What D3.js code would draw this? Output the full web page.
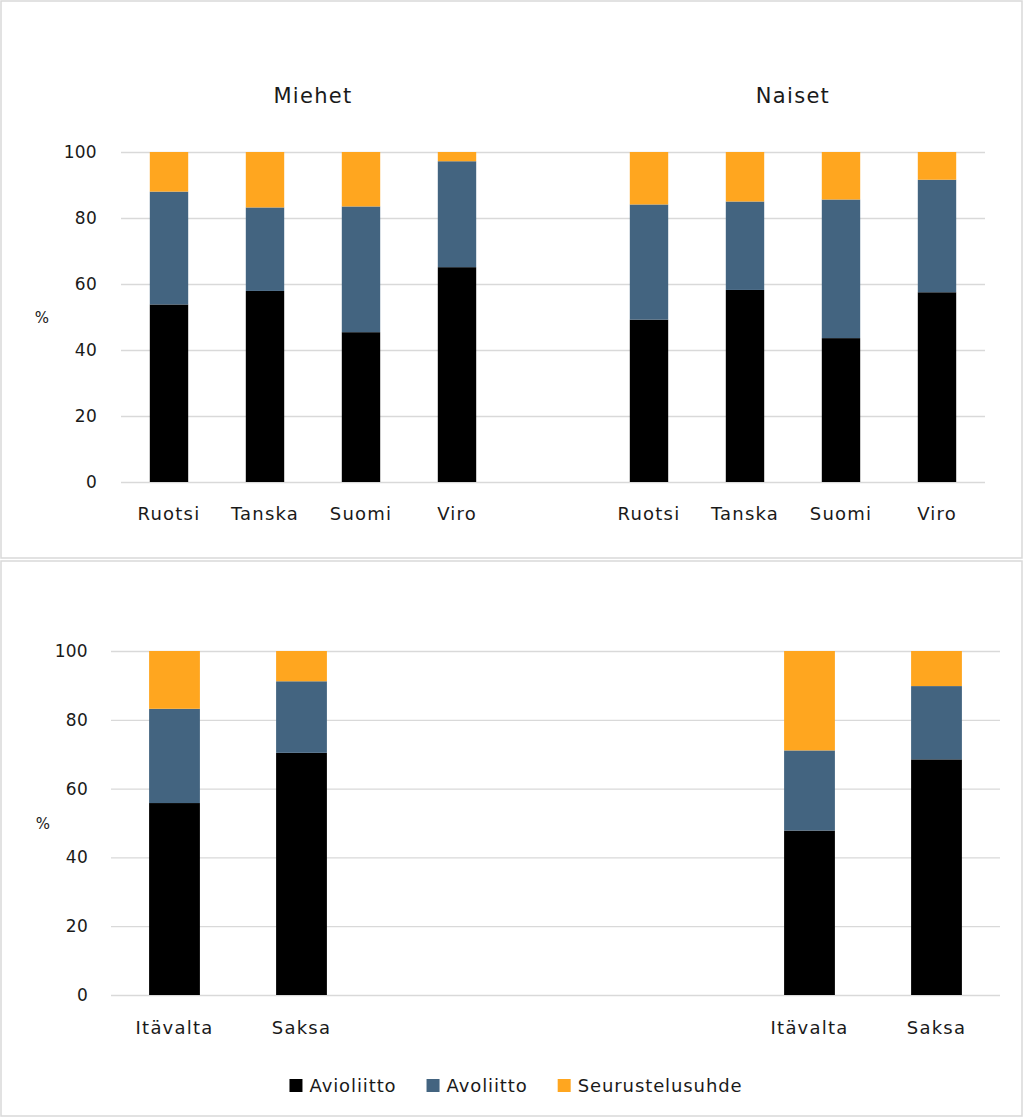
<!DOCTYPE html>
<html>
<head>
<meta charset="utf-8">
<script src="https://cdn.jsdelivr.net/npm/d3@7"></script>
<style>
  html, body { margin: 0; padding: 0; background: #fff; }
  svg { display: block; }
  text { font-family: "DejaVu Sans", sans-serif; fill: #1a1a1a; }
</style>
</head>
<body>
<svg id="chart" width="1024" height="1118"></svg>
<script>
// ---------- DATA ----------
const seriesNames = ["Avioliitto", "Avoliitto", "Seurustelusuhde"];
const seriesColors = ["#000000", "#436480", "#FFA61F"];
const panelTitles = ["Miehet", "Naiset"];
const yTicks = [0, 20, 40, 60, 80, 100];
const yLabel = "%";

const countriesTop = ["Ruotsi", "Tanska", "Suomi", "Viro"];
const miehetAvioliitto = [53.8, 57.9, 45.4, 65.1];
const miehetAvoliitto  = [34.2, 25.3, 38.1, 32.1];
const miehetSeurustelu = [12.0, 16.8, 16.5, 2.8];
const naisetAvioliitto = [49.2, 58.2, 43.6, 57.5];
const naisetAvoliitto  = [34.9, 26.8, 42.0, 34.1];
const naisetSeurustelu = [15.9, 15.0, 14.4, 8.4];

const countriesBottom = ["Itävalta", "Saksa"];
const miehetAvioliittoB = [55.8, 70.4];
const miehetAvoliittoB  = [27.4, 20.8];
const miehetSeurusteluB = [16.8, 8.8];
const naisetAvioliittoB = [47.8, 68.5];
const naisetAvoliittoB  = [23.3, 21.3];
const naisetSeurusteluB = [28.9, 10.2];

// ---------- BUILD ROWS ----------
function buildRows(countries, mA, mB, mC, nA, nB, nC, gapSlots) {
  const rows = [];
  countries.forEach((c, i) => rows.push({ key: "M-" + c, label: c, group: 0, v: [mA[i], mB[i], mC[i]] }));
  for (let g = 0; g < gapSlots; g++) rows.push({ key: "gap" + g, label: "", group: -1, v: null });
  countries.forEach((c, i) => rows.push({ key: "N-" + c, label: c, group: 1, v: [nA[i], nB[i], nC[i]] }));
  return rows;
}
const rowsTop = buildRows(countriesTop, miehetAvioliitto, miehetAvoliitto, miehetSeurustelu,
                          naisetAvioliitto, naisetAvoliitto, naisetSeurustelu, 1);
const rowsBottom = buildRows(countriesBottom, miehetAvioliittoB, miehetAvoliittoB, miehetSeurusteluB,
                             naisetAvioliittoB, naisetAvoliittoB, naisetSeurusteluB, 3);

const FONT = '"DejaVu Sans", sans-serif';
const LS = "1.2px";
const svg = d3.select("#chart");

// panel frames
svg.append("rect").attr("x", 1).attr("y", 1).attr("width", 1021).attr("height", 557)
  .attr("fill", "#fff").attr("stroke", "#d9d9d9").attr("stroke-width", 1.5);
svg.append("rect").attr("x", 1).attr("y", 561).attr("width", 1021).attr("height", 555)
  .attr("fill", "#fff").attr("stroke", "#d9d9d9").attr("stroke-width", 1.5);

function drawPanel(rows, opts) {
  const g = svg.append("g");
  const x = d3.scaleBand().domain(rows.map(r => r.key)).range([opts.x0, opts.x1])
    .paddingInner(0.6).paddingOuter(0.3);
  const y = d3.scaleLinear().domain([0, 100]).range([opts.y0, opts.y1]);

  // gridlines + tick labels
  const yAxis = d3.axisLeft(y).tickValues(yTicks).tickSize(-(opts.x1 - opts.x0)).tickPadding(opts.tickPad);
  const ga = g.append("g").attr("transform", `translate(${opts.x0},0)`).call(yAxis);
  ga.select(".domain").remove();
  ga.selectAll(".tick line").attr("stroke", "#d9d9d9").attr("stroke-width", 1.3);
  ga.selectAll(".tick text").attr("font-size", 17).attr("fill", "#1a1a1a")
    .style("font-family", FONT).style("letter-spacing", "0.3px");

  // stacked bars
  const stack = d3.stack().keys([0, 1, 2]).value((d, k) => d.v[k]);
  const dataRows = rows.filter(r => r.v);
  const stacked = stack(dataRows);
  g.selectAll("g.layer").data(stacked).join("g").attr("class", "layer")
    .attr("fill", (d, i) => seriesColors[i])
    .selectAll("rect").data(d => d).join("rect")
    .attr("x", d => x(d.data.key))
    .attr("width", x.bandwidth())
    .attr("y", d => y(d[1]))
    .attr("height", d => y(d[0]) - y(d[1]));

  // category labels
  g.selectAll("text.cat").data(dataRows).join("text").attr("class", "cat")
    .attr("x", d => x(d.key) + x.bandwidth() / 2)
    .attr("y", opts.y0 + opts.catDy)
    .attr("text-anchor", "middle")
    .attr("font-size", 18)
    .style("letter-spacing", LS)
    .text(d => d.label);

  // y label
  g.append("text").attr("x", opts.pctX).attr("y", (opts.y0 + opts.y1) / 2 + 6)
    .attr("text-anchor", "middle").attr("font-size", 15).text(yLabel);

  // titles
  if (opts.titles) {
    [0, 1].forEach(gi => {
      const keys = rows.filter(r => r.group === gi).map(r => r.key);
      const left = x(keys[0]);
      const right = x(keys[keys.length - 1]) + x.bandwidth();
      g.append("text").attr("x", (left + right) / 2).attr("y", opts.titleY)
        .attr("text-anchor", "middle").attr("font-size", 21)
        .style("letter-spacing", "1.3px").text(panelTitles[gi]);
    });
  }
}

drawPanel(rowsTop, { x0: 121, x1: 985, y0: 482, y1: 152, tickPad: 24, catDy: 38, pctX: 42, titles: true, titleY: 103 });
drawPanel(rowsBottom, { x0: 111, x1: 1000, y0: 995, y1: 651, tickPad: 23, catDy: 39, pctX: 43, titles: false });

// legend
const legend = svg.append("g");
let lx = 0;
seriesNames.forEach((n, i) => {
  const it = legend.append("g");
  it.append("rect").attr("x", 0).attr("y", -13).attr("width", 13).attr("height", 13).attr("fill", seriesColors[i]);
  const t = it.append("text").attr("x", 20).attr("y", 0).attr("font-size", 18)
    .style("letter-spacing", "0.9px").text(n);
  const w = 20 + t.node().getComputedTextLength();
  it.attr("transform", `translate(${lx},0)`);
  lx += w + 30;
});
const totalW = lx - 30;
legend.attr("transform", `translate(${(1024 - totalW) / 2 + 4},1092)`);
</script>
</body>
</html>
